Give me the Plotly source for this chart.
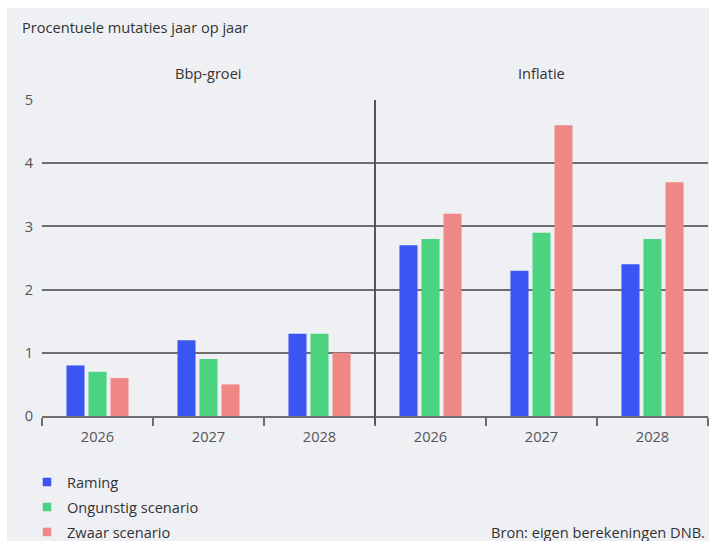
import plotly.graph_objects as go

# ---- data ----
groups = ["Bbp-groei", "Inflatie"]
years = ["2026", "2027", "2028"]
categories = [f"{g} {y}" for g in groups for y in years]
tick_labels = years * 2

raming = [0.8, 1.2, 1.3, 2.7, 2.3, 2.4]
ongunstig = [0.7, 0.9, 1.3, 2.8, 2.9, 2.8]
zwaar = [0.6, 0.5, 1.0, 3.2, 4.6, 3.7]

series_names = ["Raming", "Ongunstig scenario", "Zwaar scenario"]
series_values = [raming, ongunstig, zwaar]
colors = ["#3b55f3", "#4bd37f", "#ef8884"]

y_ticks = [0, 1, 2, 3, 4, 5]

title_text = "Procentuele mutaties jaar op jaar"
source_text = "Bron: eigen berekeningen DNB."

FONT = "Open Sans, Noto Sans, sans-serif"
FS = 14.6
BG = "#eff0f4"
GRID = "#6e6e6e"
TXT = "#333333"
TICK = "#555555"

fig = go.Figure()
for name, vals, col in zip(series_names, series_values, colors):
    fig.add_trace(go.Bar(x=categories, y=vals, name=name, marker_color=col,
                         marker_line_width=0, showlegend=False))
# legend entries (small square keys)
for name, col in zip(series_names, colors):
    fig.add_trace(go.Scatter(x=[None], y=[None], mode="markers", name=name,
                             legendgroup=name,
                             marker=dict(symbol="square", size=8.5, color=col),
                             hoverinfo="skip"))

W, H = 709, 541
L, R, T, B = 42, 1, 100, 125

# pixel -> paper coordinate helpers
px = lambda v: (v - L) / (W - L - R)
py = lambda v: (H - B - v) / (H - T - B)

fig.update_layout(
    width=W, height=H,
    margin=dict(l=L, r=R, t=T, b=B, pad=0, autoexpand=False),
    paper_bgcolor="white",
    plot_bgcolor="rgba(0,0,0,0)",
    barmode="group",
    bargap=0.405,
    bargroupgap=0.18,
    font=dict(family=FONT, size=FS, color=TXT),
    showlegend=True,
    legend=dict(x=px(27), xanchor="left", y=py(466), yanchor="top",
                orientation="v", bgcolor="rgba(0,0,0,0)",
                font=dict(family=FONT, size=FS, color=TXT),
                tracegroupgap=3, itemclick=False, itemdoubleclick=False),
    xaxis=dict(type="category", categoryorder="array", categoryarray=categories,
               tickmode="array", tickvals=categories, ticktext=tick_labels,
               tickson="boundaries", ticks="outside", ticklen=8, tickwidth=1.5,
               tickcolor=GRID, showline=True, linecolor=GRID, linewidth=1.5,
               showgrid=False, zeroline=False, ticklabelstandoff=7,
               tickfont=dict(family=FONT, size=FS, color=TICK),
               range=[-0.5, 5.5], fixedrange=True),
    yaxis=dict(range=[0, 5], tickmode="array", tickvals=y_ticks,
               showgrid=True, gridcolor=GRID, gridwidth=1.6,
               zeroline=False, showline=False, ticks="",
               ticklabelstandoff=8,
               tickfont=dict(family=FONT, size=FS, color=TICK),
               fixedrange=True),
)

# gray panel background
fig.add_shape(type="rect", xref="paper", yref="paper",
              x0=px(7), x1=px(W + 5), y0=py(H + 5), y1=py(8),
              fillcolor=BG, line_width=0, layer="below")

# divider between the two panels
fig.add_shape(type="line", xref="x", yref="paper",
              x0=2.5, x1=2.5, y0=py(424), y1=1,
              line=dict(color="#555555", width=2))

# panel titles
for i, g in enumerate(groups):
    fig.add_annotation(x=1 + 3 * i, xref="x", y=py(73), yref="paper",
                       text=g, showarrow=False, xanchor="center", yanchor="middle",
                       font=dict(family=FONT, size=FS, color=TXT))

fig.add_annotation(x=px(20), xref="paper", y=py(27), yref="paper",
                   text=title_text, showarrow=False, xanchor="left", yanchor="middle",
                   font=dict(family=FONT, size=FS, color=TXT))

fig.add_annotation(x=px(707), xref="paper", y=py(532), yref="paper",
                   text=source_text, showarrow=False, xanchor="right", yanchor="middle",
                   font=dict(family=FONT, size=FS, color=TXT))

fig.write_html("out.html",
               config={"displayModeBar": False, "staticPlot": False},
               post_script="document.body.style.margin='0';"
                           "document.documentElement.style.overflow='hidden';"
                           "document.body.style.overflow='hidden';")
